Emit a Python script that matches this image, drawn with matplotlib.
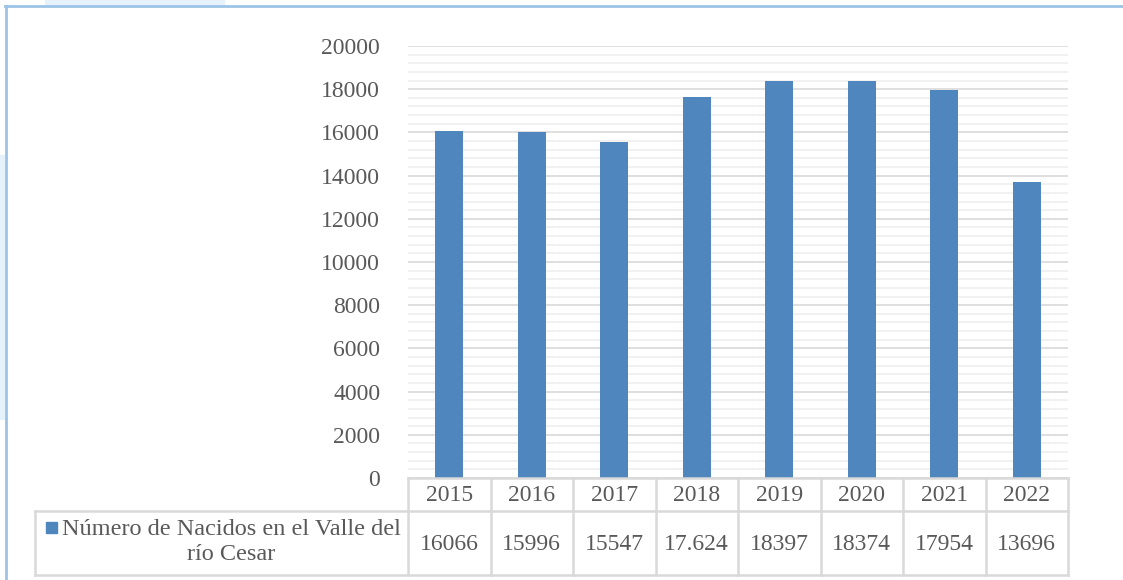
import matplotlib.pyplot as plt
from matplotlib.patches import Rectangle
from matplotlib.lines import Line2D
from matplotlib.ticker import MultipleLocator

# --- Data ---
years = ['2015', '2016', '2017', '2018', '2019', '2020', '2021', '2022']
nacidos = [16066, 15996, 15547, 17624, 18397, 18374, 17954, 13696]
table_labels = ['16066', '15996', '15547', '17.624', '18397', '18374', '17954', '13696']
series_name = 'Número de Nacidos en el Valle del\nrío Cesar'

bar_color = '#4f86bd'
text_color = '#595959'
grid_major = '#d9d9d9'
grid_minor = '#efefef'
cell_line = '#d9d9d9'

plt.rcParams['font.family'] = ['Liberation Serif', 'DejaVu Serif']

W, H = 1123, 580
fig = plt.figure(figsize=(W / 100, H / 100), dpi=100)

# plot area in pixels
left, right, top, bottom = 408, 1068, 46, 478
ax = fig.add_axes([left / W, (H - bottom) / H, (right - left) / W, (bottom - top) / H])

x = range(len(years))
ax.bar(x, nacidos, width=0.34, color=bar_color, zorder=3)
ax.set_xlim(-0.5, len(years) - 0.5)
ax.set_ylim(0, 20000)
ax.yaxis.set_major_locator(MultipleLocator(2000))
ax.yaxis.set_minor_locator(MultipleLocator(400))
ax.grid(which='major', axis='y', color=grid_major, linewidth=1.2, zorder=0)
ax.grid(which='minor', axis='y', color=grid_minor, linewidth=1.2, zorder=0)
for s in ax.spines.values():
    s.set_visible(False)
ax.tick_params(axis='y', which='both', length=0, pad=20, labelsize=17, labelcolor=text_color)
ax.tick_params(axis='x', which='both', length=0, labelbottom=False)
ax.set_yticks(range(0, 20001, 2000))


# --- data table below the axes (figure pixel coords) ---
def fx(px):
    return px / W


def fy(py):
    return 1 - py / H


row1_top, row1_bot, row2_bot = 478, 511, 575
tab_left = 35
ncol = len(years)
colw = (right - left) / ncol

def hline(y, x0, x1):
    fig.add_artist(Line2D([fx(x0), fx(x1)], [fy(y), fy(y)], color=cell_line, lw=1.8))

def vline(xp, y0, y1):
    fig.add_artist(Line2D([fx(xp), fx(xp)], [fy(y0), fy(y1)], color=cell_line, lw=1.8))

hline(row1_top, left, right)
hline(row1_bot, tab_left, right)
hline(row2_bot, tab_left, right)
vline(tab_left, row1_bot, row2_bot)
for i in range(ncol + 1):
    vline(left + i * colw, row1_top, row2_bot)

for i, (yr, lab) in enumerate(zip(years, table_labels)):
    cx = left + (i + 0.5) * colw
    fig.text(fx(cx), fy((row1_top + row1_bot) / 2 + 1), yr, ha='center', va='center',
             fontsize=17, color=text_color)
    fig.text(fx(cx), fy((row1_bot + row2_bot) / 2 + 2), lab, ha='center', va='center',
             fontsize=17, color=text_color)

# legend key + series name
fig.add_artist(Rectangle((fx(46), fy(533)), 11 / W, 11 / H, color=bar_color))
fig.text(fx(231), fy((row1_bot + row2_bot) / 2 - 1), series_name, ha='center', va='center',
         multialignment='center', fontsize=17.5, color=text_color, linespacing=1.3)

# page background fragments and chart frame
fig.add_artist(Rectangle((fx(45), fy(5)), 180 / W, 5 / H, color='#e6f2fb', lw=0))
fig.add_artist(Rectangle((0, fy(420)), 5 / W, 265 / H, color='#e6f2fb', lw=0))
fig.add_artist(Line2D([fx(5), 1], [fy(6), fy(6)], color='#9dc3e6', lw=2))
fig.add_artist(Line2D([fx(6), fx(6)], [fy(6), 0], color='#9dc3e6', lw=2))

fig.savefig('out.png', dpi=100)
